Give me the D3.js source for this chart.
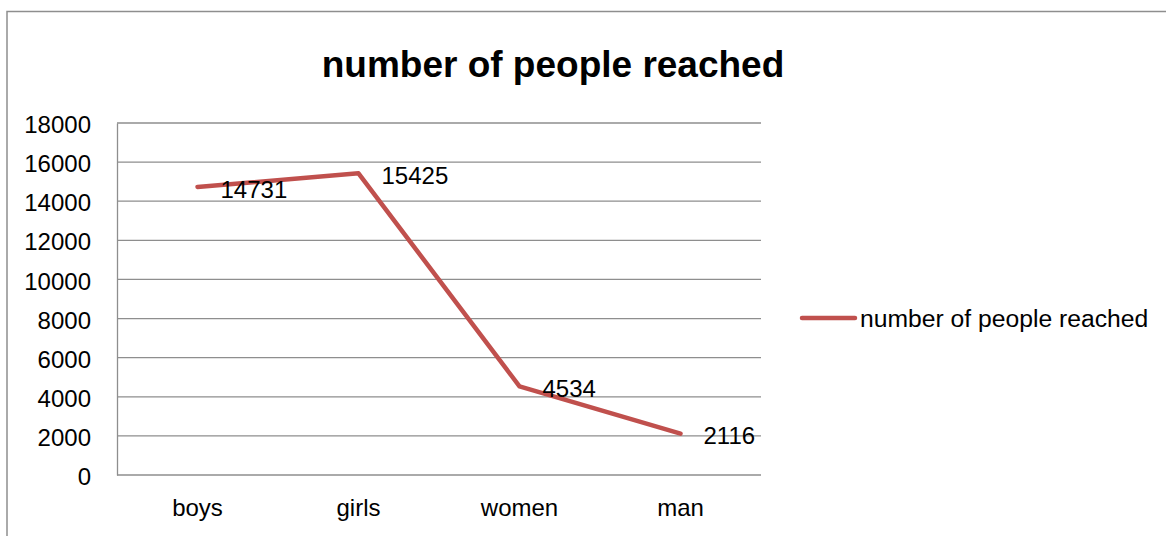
<!DOCTYPE html>
<html><head><meta charset="utf-8">
<script src="https://cdn.jsdelivr.net/npm/d3@7"></script>
<style>html,body{margin:0;padding:0;background:#fff;}svg{display:block;}</style>
</head><body>
<svg id="chart" width="1166" height="536"></svg>
<script>
const categories = ["boys", "girls", "women", "man"];
const values = [14731, 15425, 4534, 2116];
const yTicks = [0, 2000, 4000, 6000, 8000, 10000, 12000, 14000, 16000, 18000];
const seriesName = "number of people reached";
const title = "number of people reached";

const svg = d3.select("#chart");
const font = "'Liberation Sans', Arial, sans-serif";
const grey = "#8e8e8e";
const lineColor = "#C0504D";

// outer frame
svg.append("path").attr("d", "M7,540 L7,11.5 L1170,11.5")
  .attr("fill", "none").attr("stroke", grey).attr("stroke-width", 1.5);

const m = {left: 117, right: 761, top: 123, bottom: 475};
const x = d3.scaleBand().domain(categories).range([m.left, m.right]);
const y = d3.scaleLinear().domain([0, 18000]).range([m.bottom, m.top]);

// gridlines
svg.append("g").selectAll("line").data(yTicks).join("line")
  .attr("x1", m.left).attr("x2", m.right)
  .attr("y1", d => y(d)).attr("y2", d => y(d))
  .attr("stroke", grey).attr("stroke-width", 1.3);

// y axis
const yAxis = svg.append("g").attr("transform", `translate(${m.left},0)`)
  .call(d3.axisLeft(y).tickValues(yTicks).tickSize(0).tickPadding(26).tickFormat(d3.format("d")));
yAxis.select(".domain").attr("stroke", grey).attr("stroke-width", 1.3);
yAxis.selectAll("text").attr("font-family", font).attr("font-size", 24).attr("fill", "#000").attr("dy", "0.4em");

// x axis
const xAxis = svg.append("g").attr("transform", `translate(0,${m.bottom})`)
  .call(d3.axisBottom(x).tickSize(0).tickPadding(24));
xAxis.select(".domain").remove();
xAxis.selectAll("text").attr("font-family", font).attr("font-size", 24).attr("fill", "#000").attr("dy", "0.71em");

// line
const cx = d => x(d) + x.bandwidth() / 2;
const line = d3.line().x((d, i) => cx(categories[i])).y(d => y(d));
svg.append("path").datum(values).attr("d", line)
  .attr("fill", "none").attr("stroke", lineColor).attr("stroke-width", 4.5)
  .attr("stroke-linejoin", "round").attr("stroke-linecap", "round");

// data labels
svg.append("g").selectAll("text").data(values).join("text")
  .attr("x", (d, i) => cx(categories[i]) + 23)
  .attr("y", d => y(d) + 2)
  .attr("dy", "0.36em")
  .attr("font-family", font).attr("font-size", 24).attr("fill", "#000")
  .text(d => d);

// title
svg.append("text").attr("x", 553).attr("y", 77).attr("text-anchor", "middle")
  .attr("font-family", font).attr("font-size", 37).attr("font-weight", "bold").attr("fill", "#000")
  .text(title);

// legend
svg.append("line").attr("x1", 802).attr("x2", 855).attr("y1", 318).attr("y2", 318)
  .attr("stroke", lineColor).attr("stroke-width", 4.5).attr("stroke-linecap", "round");
svg.append("text").attr("x", 860).attr("y", 318).attr("dy", "0.36em")
  .attr("font-family", font).attr("font-size", 24.7).attr("fill", "#000")
  .text(seriesName);
</script>
</body></html>
